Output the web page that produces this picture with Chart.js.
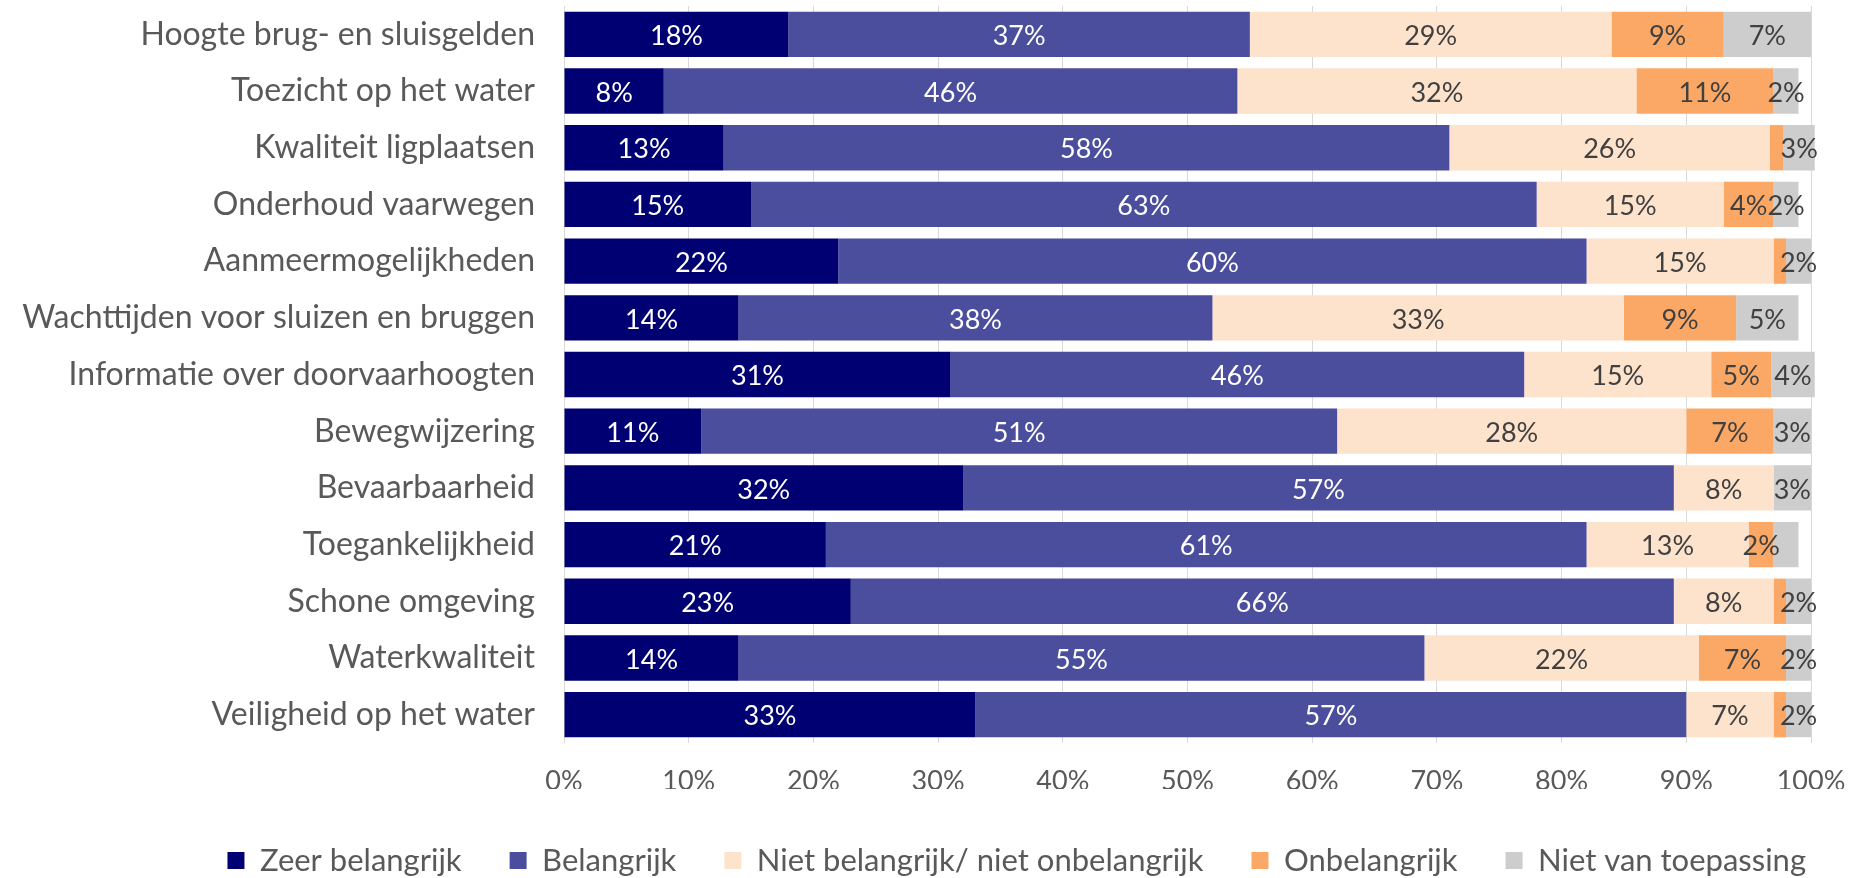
<!DOCTYPE html>
<html>
<head>
<meta charset="utf-8">
<script src="https://cdn.jsdelivr.net/npm/chart.js@4.4.1/dist/chart.umd.min.js"></script>
<style>
html,body{margin:0;padding:0;background:#ffffff;}
#wrap{width:1854px;height:878px;position:relative;}
</style>
</head>
<body>
<div id="wrap"><canvas id="c"></canvas></div>
<script>
const categories = [
  "Hoogte brug- en sluisgelden",
  "Toezicht op het water",
  "Kwaliteit ligplaatsen",
  "Onderhoud vaarwegen",
  "Aanmeermogelijkheden",
  "Wachttijden voor sluizen en bruggen",
  "Informatie over doorvaarhoogten",
  "Bewegwijzering",
  "Bevaarbaarheid",
  "Toegankelijkheid",
  "Schone omgeving",
  "Waterkwaliteit",
  "Veiligheid op het water"
];
const seriesNames = [
  "Zeer belangrijk",
  "Belangrijk",
  "Niet belangrijk/ niet onbelangrijk",
  "Onbelangrijk",
  "Niet van toepassing"
];
const zeerBelangrijk = [18, 8, 12.8, 15, 22, 14, 31, 11, 32, 21, 23, 14, 33];
const belangrijk     = [37, 46, 58.2, 63, 60, 38, 46, 51, 57, 61, 66, 55, 57];
const neutraal       = [29, 32, 25.7, 15, 15, 33, 15, 28, 8, 13, 8, 22, 7];
const onbelangrijk   = [9, 11, 1.1, 4, 1, 9, 4.8, 7, 0, 2, 1, 7, 1];
const nvt            = [7, 2, 2.5, 2, 2, 5, 3.5, 3, 3, 2, 2, 2, 2];
const xTickValues = [0, 10, 20, 30, 40, 50, 60, 70, 80, 90, 100];
// labels not shown in the original: [series index, category index]
const hiddenLabels = [[4, 9]];

const colors = ["#000072", "#4B4D9D", "#FDE2CC", "#FBA866", "#CDCDCD"];
const labelColors = ["#ffffff", "#ffffff", "#404040", "#404040", "#404040"];
const seriesData = [zeerBelangrijk, belangrijk, neutraal, onbelangrijk, nvt];

Chart.defaults.font.family = "Lato, 'Open Sans', sans-serif";

const segLabels = {
  id: 'segLabels',
  afterDraw(chart) {
    const ctx = chart.ctx;
    ctx.save();
    ctx.font = "27px Lato, 'Open Sans', sans-serif";
    ctx.textAlign = 'center';
    ctx.textBaseline = 'middle';
    chart.data.datasets.forEach((ds, di) => {
      const meta = chart.getDatasetMeta(di);
      meta.data.forEach((bar, i) => {
        const v = ds.data[i];
        if (v < 1.5) return;
        if (hiddenLabels.some(h => h[0] === di && h[1] === i)) return;
        const p = bar.getProps(['x', 'y', 'base'], true);
        ctx.fillStyle = labelColors[di];
        ctx.fillText(Math.round(v) + '%', (p.x + p.base) / 2, p.y + 2);
      });
    });
    ctx.restore();
  }
};

const legendShift = {
  id: 'legendShift',
  afterLayout(chart) {
    if (chart.legend) {
      chart.legend.top += 8;
      chart.legend.bottom += 8;
    }
  }
};

new Chart(document.getElementById('c'), {
  type: 'bar',
  data: {
    labels: categories,
    datasets: seriesNames.map((name, k) => ({
      label: name,
      data: seriesData[k],
      backgroundColor: colors[k],
      borderWidth: 0,
      barPercentage: 0.8,
      categoryPercentage: 1.0,
      clip: false
    }))
  },
  options: {
    indexAxis: 'y',
    responsive: true,
    maintainAspectRatio: false,
    animation: false,
    devicePixelRatio: 1,
    layout: { padding: { top: 6, left: 0, right: 0, bottom: 0 } },
    scales: {
      x: {
        stacked: true,
        min: 0,
        max: 100,
        z: 1,
        afterBuildTicks: s => { s.ticks = xTickValues.map(v => ({ value: v })); },
        afterFit: s => { s.height = 46; s.paddingRight = 43; },
        grid: { color: 'rgba(0,0,0,0.15)', lineWidth: 1, drawTicks: false },
        border: { display: false },
        ticks: {
          padding: 22,
          color: '#595959',
          font: { size: 27 },
          callback: v => v + '%'
        }
      },
      y: {
        stacked: true,
        grid: { display: false, drawTicks: false },
        border: { display: false },
        afterFit: s => { s.width = 564; s.paddingTop = 0; s.paddingBottom = 0; },
        ticks: {
          padding: 29,
          color: '#595959',
          font: { size: 32 }
        }
      }
    },
    plugins: {
      legend: {
        position: 'bottom',
        align: 'end',
        labels: {
          boxWidth: 17,
          boxHeight: 17,
          padding: 48,
          color: '#595959',
          font: { size: 31 }
        }
      },
      tooltip: { enabled: false }
    }
  },
  plugins: [segLabels, legendShift]
});
</script>
</body>
</html>
